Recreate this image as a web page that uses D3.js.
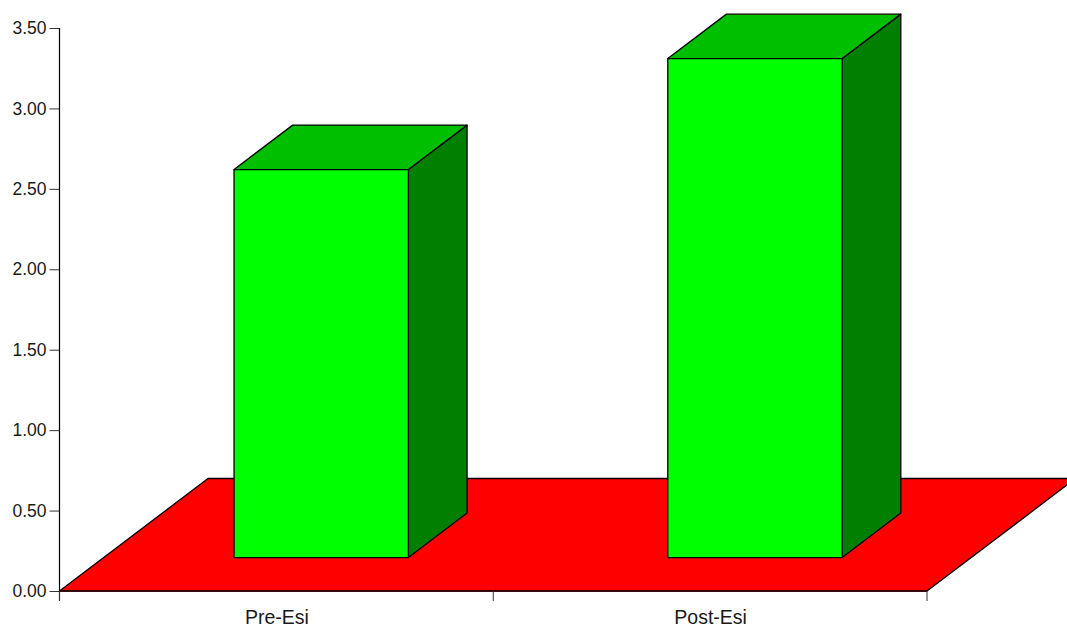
<!DOCTYPE html>
<html>
<head>
<meta charset="utf-8">
<style>
  html, body { margin: 0; padding: 0; background: #fff; overflow: hidden; }
  svg { display: block; }
  text { font-family: "Liberation Sans", Arial, sans-serif; fill: #1a1a1a; }
</style>
<script src="https://cdn.jsdelivr.net/npm/d3@7"></script>
</head>
<body>
<svg id="chart" width="1067" height="627"></svg>
<script>
const categories = ["Pre-Esi", "Post-Esi"];
const barTops = [2.62, 3.31];
const barBase = 0.208;
const yTicks = [0, 0.5, 1, 1.5, 2, 2.5, 3, 3.5];

const svg = d3.select("#chart");

const y = d3.scaleLinear().domain([0, 3.5]).range([591, 28]);
const x = d3.scaleBand().domain(categories).range([59.5, 927]);

// Oblique projection: depth 0 is the front edge of the floor, depth 1 the back edge.
const depthX = d3.scaleLinear().domain([0, 1]).range([0, 148.5]);
const depthY = d3.scaleLinear().domain([0, 1]).range([0, 112.5]);
const barInset = 0.302;     // horizontal shift of a bar's front face, as a share of depth
const barDepth = 0.395;     // depth of a bar
const barFraction = 0.402;  // bar width as a share of the band

const project = (px, value, depth) => [px + depthX(depth), y(value) - depthY(depth)];
const poly = pts => "M" + pts.map(p => p.join(",")).join("L") + "Z";
const outlined = sel => sel.attr("stroke", "#000").attr("stroke-width", 1.3).attr("stroke-linejoin", "round");

// Floor
const [xMin, xMax] = x.range();
svg.append("path").call(outlined)
  .attr("fill", "#ff0000")
  .attr("d", poly([
    project(xMin, 0, 0), project(xMax, 0, 0),
    project(xMax, 0, 1), project(xMin, 0, 1)
  ]));

// Bars: right side, top and front faces
const bars = svg.append("g").selectAll("g")
  .data(categories.map((c, i) => {
    const w = x.bandwidth() * barFraction;
    const cx = x(c) + x.bandwidth() / 2 + depthX(barInset);
    return { c, top: barTops[i], l: cx - w / 2, r: cx + w / 2 };
  }))
  .join("g");

bars.append("path").call(outlined)
  .attr("fill", "#007f00")
  .attr("d", d => poly([
    project(d.r, barBase, 0), project(d.r, d.top, 0),
    project(d.r, d.top, barDepth), project(d.r, barBase, barDepth)
  ]));

bars.append("path").call(outlined)
  .attr("fill", "#00bf00")
  .attr("d", d => poly([
    project(d.l, d.top, 0), project(d.r, d.top, 0),
    project(d.r, d.top, barDepth), project(d.l, d.top, barDepth)
  ]));

bars.append("path").call(outlined)
  .attr("fill", "#00ff00")
  .attr("d", d => poly([
    project(d.l, barBase, 0), project(d.r, barBase, 0),
    project(d.r, d.top, 0), project(d.l, d.top, 0)
  ]));

// Y axis
const axisY = svg.append("g").attr("transform", "translate(59.5,0)")
  .call(d3.axisLeft(y).tickValues(yTicks).tickFormat(d3.format(".2f")).tickSize(10).tickPadding(3));
axisY.select(".domain").remove();
axisY.selectAll("line").attr("stroke", "#333").attr("stroke-width", 1);
axisY.selectAll("text").attr("font-family", null).style("font-size", "17.5px");
svg.append("line").attr("x1", 59.5).attr("x2", 59.5).attr("y1", y(3.5)).attr("y2", 601)
  .attr("stroke", "#000").attr("stroke-width", 1.2);

// X axis: ticks sit on the band edges, labels in the band centres
const axisX = svg.append("g").attr("transform", "translate(0,591)");
axisX.append("line").attr("x1", xMin).attr("x2", xMax).attr("y1", 0).attr("y2", 0)
  .attr("stroke", "#300").attr("stroke-width", 1.5);
axisX.selectAll("line.tick")
  .data([xMin, x(categories[1]), xMax])
  .join("line").attr("class", "tick")
  .attr("x1", d => d).attr("x2", d => d).attr("y1", 0).attr("y2", 10)
  .attr("stroke", "#333").attr("stroke-width", 1);
axisX.selectAll("text")
  .data(categories)
  .join("text")
  .attr("x", d => x(d) + x.bandwidth() / 2 + 0.5)
  .attr("y", 33)
  .attr("text-anchor", "middle")
  .style("font-size", "19.5px")
  .text(d => d);
</script>
</body>
</html>
